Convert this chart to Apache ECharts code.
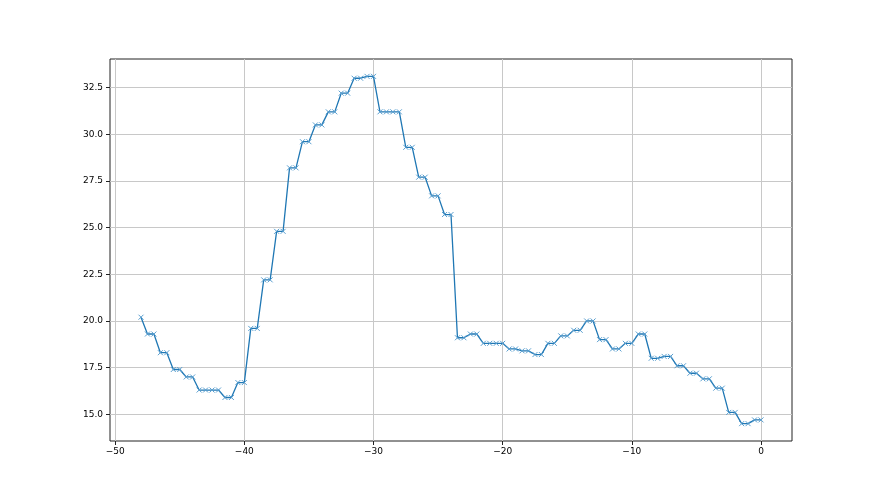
<!DOCTYPE html>
<html>
<head>
<meta charset="utf-8">
<script src="https://cdn.jsdelivr.net/npm/echarts@6/dist/echarts.min.js"></script>
<style>html,body{margin:0;padding:0;background:#fff;}#c{width:880px;height:495px;}</style>
</head>
<body>
<div id="c"></div>
<script>
const xValues = [-48,
  -47.5,-47,-46.5,-46,-45.5,-45,-44.5,-44,-43.5,-43,-42.5,-42,-41.5,-41,-40.5,-40,
  -39.5,-39,-38.5,-38,-37.5,-37,-36.5,-36,-35.5,-35,-34.5,-34,-33.5,-33,-32.5,-32,
  -31.5,-31,-30.5,-30,-29.5,-29,-28.5,-28,-27.5,-27,-26.5,-26,-25.5,-25,-24.5,-24,
  -23.5,-23,-22.5,-22,-21.5,-21,-20.5,-20,-19.5,-19,-18.5,-18,-17.5,-17,-16.5,-16,
  -15.5,-15,-14.5,-14,-13.5,-13,-12.5,-12,-11.5,-11,-10.5,-10,-9.5,-9,-8.5,-8,
  -7.5,-7,-6.5,-6,-5.5,-5,-4.5,-4,-3.5,-3,-2.5,-2,-1.5,-1,-0.5,0];
const yValues = [20.2,
  19.3,19.3,18.3,18.3,17.4,17.4,17.0,17.0,16.3,16.3,16.3,16.3,15.9,15.9,16.7,16.7,
  19.6,19.6,22.2,22.2,24.8,24.8,28.2,28.2,29.6,29.6,30.5,30.5,31.2,31.2,32.2,32.2,
  33.0,33.0,33.1,33.1,31.2,31.2,31.2,31.2,29.3,29.3,27.7,27.7,26.7,26.7,25.7,25.7,
  19.1,19.1,19.3,19.3,18.8,18.8,18.8,18.8,18.5,18.5,18.4,18.4,18.2,18.2,18.8,18.8,
  19.2,19.2,19.5,19.5,20.0,20.0,19.0,19.0,18.5,18.5,18.8,18.8,19.3,19.3,18.0,18.0,
  18.1,18.1,17.6,17.6,17.2,17.2,16.9,16.9,16.4,16.4,15.1,15.1,14.5,14.5,14.7,14.7];
const xTicks = [-50,-40,-30,-20,-10,0];
const yTicks = [15.0,17.5,20.0,22.5,25.0,27.5,30.0,32.5];

const points = xValues.map((x,i)=>[x,yValues[i]]);
const fmtX = v => String(v).replace('-', '\u2212');
const fmtY = v => Number(v).toFixed(1);
const labelFont = {fontFamily:'DejaVu Sans', fontSize:9, color:'#000'};

const chart = echarts.init(document.getElementById('c'), null, {renderer:'canvas'});
chart.setOption({
  animation:false,
  backgroundColor:'#fff',
  grid:{left:110,right:88,top:59,bottom:54,show:true,borderColor:'#222',borderWidth:1,backgroundColor:'transparent'},
  xAxis:{type:'value',min:-50.4,max:2.4,
    axisLine:{show:false,onZero:false},
    axisTick:{show:true,length:4,inside:false,lineStyle:{color:'#222',width:1},customValues:xTicks},
    axisLabel:Object.assign({margin:6,customValues:xTicks,formatter:fmtX},labelFont),
    splitLine:{show:true,lineStyle:{color:'#c8c8c8',width:1}}},
  yAxis:{type:'value',min:13.57,max:34.03,
    axisLine:{show:false,onZero:false},
    axisTick:{show:true,length:4,inside:false,lineStyle:{color:'#222',width:1},customValues:yTicks},
    axisLabel:Object.assign({margin:7,customValues:yTicks,formatter:fmtY},labelFont),
    splitLine:{show:true,lineStyle:{color:'#c8c8c8',width:1}}},
  series:[{type:'line',data:points,
    lineStyle:{color:'#1f77b4',width:1.3},
    symbol:'path://M0 0L10 10M10 0L0 10',symbolSize:5,showAllSymbol:true,
    itemStyle:{color:'rgba(0,0,0,0)',borderColor:'#5a9fd0',borderWidth:1},
    emphasis:{disabled:true}}]
});
</script>
</body>
</html>
